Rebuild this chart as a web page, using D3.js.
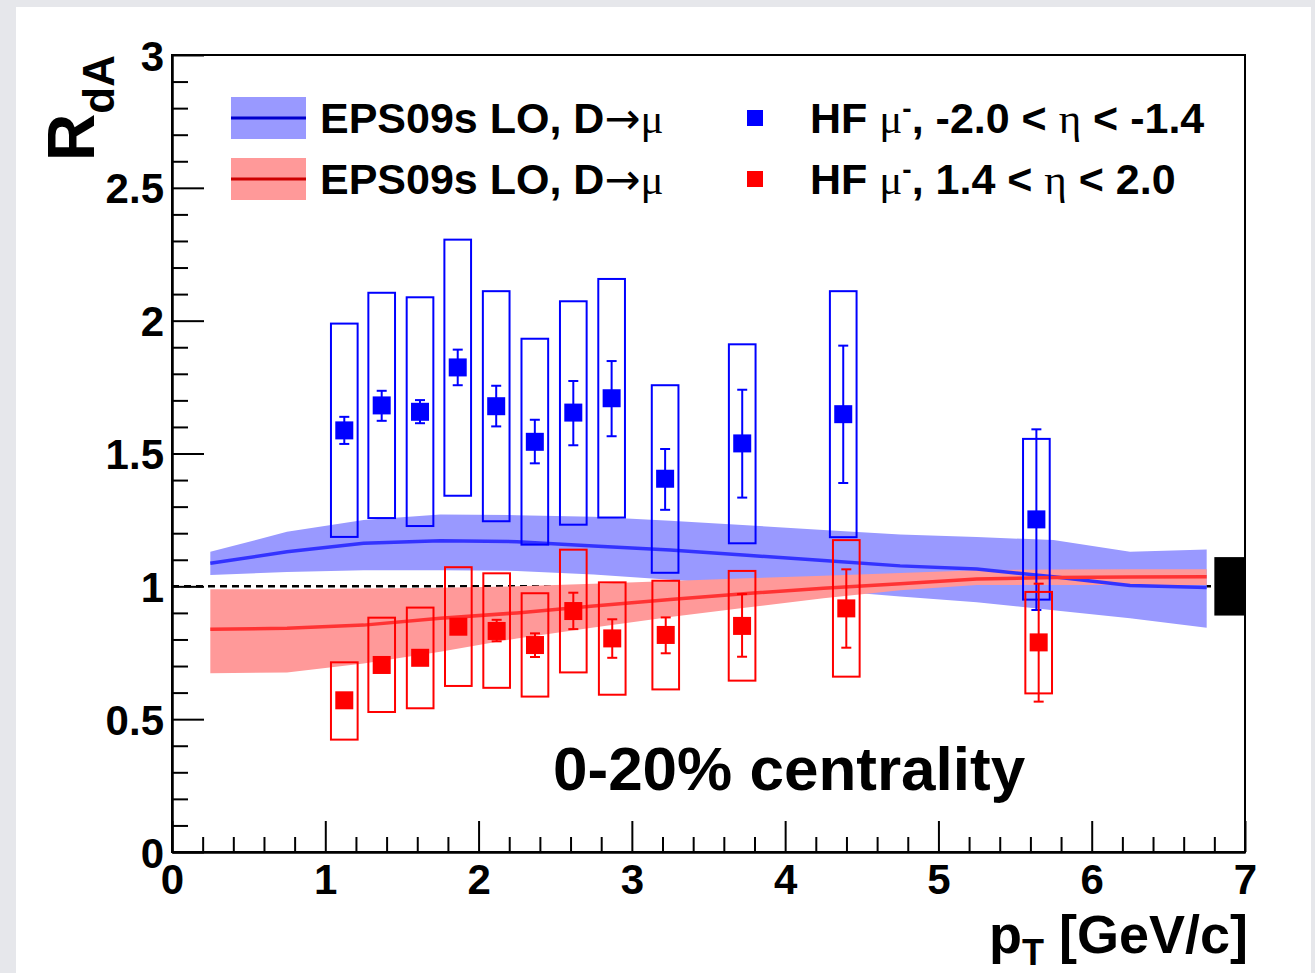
<!DOCTYPE html>
<html>
<head>
<meta charset="utf-8">
<script src="https://cdn.jsdelivr.net/npm/d3@7"></script>
<style>
  html, body { margin: 0; padding: 0; background: #e6e7eb; }
  svg { display: block; }
  .sans { font-family: "Liberation Sans", Arial, Helvetica, sans-serif; font-weight: bold; }
  .serif { font-family: "Liberation Serif", "DejaVu Serif", serif; font-weight: normal; }
  .arrow { font-family: "DejaVu Sans", sans-serif; font-weight: normal; }
</style>
</head>
<body>
<svg id="chart" width="1315" height="973"></svg>
<script>
// ---------------- data ----------------
// Backward (-2.0 < eta < -1.4), blue
const ptBlue      = [1.124, 1.368, 1.618, 1.864, 2.115, 2.367, 2.618, 2.868, 3.217, 3.720, 4.379, 5.639];
const rBlue       = [1.587, 1.681, 1.657, 1.824, 1.678, 1.544, 1.654, 1.708, 1.405, 1.538, 1.648, 1.252];
const statHiBlue  = [1.638, 1.736, 1.701, 1.891, 1.755, 1.627, 1.773, 1.848, 1.517, 1.740, 1.906, 1.591];
const statLoBlue  = [1.536, 1.623, 1.614, 1.757, 1.602, 1.463, 1.531, 1.565, 1.288, 1.334, 1.389, 0.911];
const sysHiBlue   = [1.989, 2.105, 2.088, 2.305, 2.111, 1.932, 2.073, 2.157, 1.757, 1.911, 2.111, 1.555];
const sysLoBlue   = [1.186, 1.257, 1.227, 1.341, 1.245, 1.157, 1.232, 1.259, 1.051, 1.162, 1.185, 0.950];

// Forward (1.4 < eta < 2.0), red
const ptRed       = [1.124, 1.368, 1.619, 1.868, 2.118, 2.368, 2.618, 2.872, 3.221, 3.719, 4.399, 5.654];
const rRed        = [0.571, 0.704, 0.731, 0.848, 0.832, 0.779, 0.907, 0.804, 0.817, 0.851, 0.917, 0.789];
const statHiRed   = [0.580, 0.714, 0.741, 0.860, 0.874, 0.823, 0.976, 0.876, 0.883, 0.971, 1.064, 1.010];
const statLoRed   = [0.562, 0.694, 0.721, 0.836, 0.793, 0.734, 0.839, 0.731, 0.748, 0.735, 0.769, 0.566];
const sysHiRed    = [0.714, 0.882, 0.920, 1.072, 1.049, 0.974, 1.138, 1.015, 1.021, 1.058, 1.174, 0.979];
const sysLoRed    = [0.423, 0.527, 0.541, 0.625, 0.618, 0.585, 0.676, 0.592, 0.612, 0.645, 0.660, 0.597];
const sysHalfWidth = 0.087; // GeV/c, half width of systematic boxes

// EPS09s LO D->mu calculations
const ptTheory    = [0.25, 0.75, 1.25, 1.75, 2.25, 2.75, 3.25, 3.75, 4.25, 4.75, 5.25, 5.75, 6.25, 6.75];
const blueCentral = [1.087, 1.130, 1.162, 1.172, 1.168, 1.152, 1.137, 1.117, 1.097, 1.077, 1.065, 1.036, 1.003, 0.996];
const blueUpper   = [1.130, 1.205, 1.250, 1.270, 1.268, 1.262, 1.247, 1.230, 1.212, 1.195, 1.186, 1.174, 1.130, 1.139];
const blueLower   = [1.043, 1.054, 1.061, 1.061, 1.058, 1.045, 1.025, 1.005, 0.985, 0.962, 0.940, 0.910, 0.880, 0.844];
const redCentral  = [0.838, 0.842, 0.854, 0.880, 0.900, 0.926, 0.950, 0.973, 0.993, 1.010, 1.028, 1.033, 1.035, 1.036];
const redUpper    = [0.989, 0.989, 0.992, 0.995, 1.000, 1.010, 1.020, 1.030, 1.040, 1.050, 1.061, 1.063, 1.064, 1.064];
const redLower    = [0.673, 0.676, 0.710, 0.754, 0.804, 0.845, 0.885, 0.920, 0.955, 0.985, 1.005, 1.005, 1.005, 1.005];

// normalisation uncertainty box at unity
const normPt = [6.8, 7.0];
const normR  = [0.89, 1.11];

const xTickLabels = ["0", "1", "2", "3", "4", "5", "6", "7"];
const yTickLabels = ["0", "0.5", "1", "1.5", "2", "2.5", "3"];
const xMajor = [0, 1, 2, 3, 4, 5, 6, 7];
const yMajor = [0, 0.5, 1, 1.5, 2, 2.5, 3];

// ---------------- drawing ----------------
const svg = d3.select("#chart");
// white slide area
svg.append("rect").attr("x", 16).attr("y", 7).attr("width", 1295).attr("height", 966).attr("fill", "#ffffff");

const x = d3.scaleLinear().domain([0, 7]).range([172, 1245]);
const y = d3.scaleLinear().domain([0, 3]).range([852, 55]);

const BLUE = "#0000ff", RED = "#ff0000";

// dashed unity line
svg.append("line")
  .attr("x1", x(0)).attr("x2", x(7)).attr("y1", y(1)).attr("y2", y(1))
  .attr("stroke", "#000").attr("stroke-width", 2.5).attr("stroke-dasharray", "7,5");

// bands
const bandArea = (lo, hi) => d3.area()
  .x((d, i) => x(ptTheory[i]))
  .y0((d, i) => y(lo[i]))
  .y1((d, i) => y(hi[i]));
const centralLine = (c) => d3.line().x((d, i) => x(ptTheory[i])).y((d, i) => y(c[i]));

svg.append("path").datum(ptTheory).attr("d", bandArea(blueLower, blueUpper)).attr("fill", "#9999ff");
svg.append("path").datum(ptTheory).attr("d", bandArea(redLower, redUpper)).attr("fill", "#ff9999");
svg.append("path").datum(ptTheory).attr("d", centralLine(blueCentral)).attr("fill", "none").attr("stroke", "#3333ff").attr("stroke-width", 3.5);
svg.append("path").datum(ptTheory).attr("d", centralLine(redCentral)).attr("fill", "none").attr("stroke", "#ff3333").attr("stroke-width", 3.5);

// normalisation box
svg.append("rect")
  .attr("x", x(normPt[0])).attr("width", x(normPt[1]) - x(normPt[0]))
  .attr("y", y(normR[1])).attr("height", y(normR[0]) - y(normR[1]))
  .attr("fill", "#000");

function drawSeries(pt, r, sHi, sLo, yHi, yLo, color) {
  const g = svg.append("g");
  const idx = d3.range(pt.length);
  // systematic boxes
  g.selectAll("rect.sys").data(idx).join("rect").attr("class", "sys")
    .attr("x", i => x(pt[i] - sysHalfWidth))
    .attr("width", i => x(pt[i] + sysHalfWidth) - x(pt[i] - sysHalfWidth))
    .attr("y", i => y(yHi[i]))
    .attr("height", i => y(yLo[i]) - y(yHi[i]))
    .attr("fill", "none").attr("stroke", color).attr("stroke-width", 2);
  // stat error bars
  g.selectAll("line.stat").data(idx).join("line").attr("class", "stat")
    .attr("x1", i => x(pt[i])).attr("x2", i => x(pt[i]))
    .attr("y1", i => y(sHi[i])).attr("y2", i => y(sLo[i]))
    .attr("stroke", color).attr("stroke-width", 2);
  const capW = 5;
  g.selectAll("line.capHi").data(idx).join("line").attr("class", "capHi")
    .attr("x1", i => x(pt[i]) - capW).attr("x2", i => x(pt[i]) + capW)
    .attr("y1", i => y(sHi[i])).attr("y2", i => y(sHi[i]))
    .attr("stroke", color).attr("stroke-width", 2);
  g.selectAll("line.capLo").data(idx).join("line").attr("class", "capLo")
    .attr("x1", i => x(pt[i]) - capW).attr("x2", i => x(pt[i]) + capW)
    .attr("y1", i => y(sLo[i])).attr("y2", i => y(sLo[i]))
    .attr("stroke", color).attr("stroke-width", 2);
  // markers
  const m = 18;
  g.selectAll("rect.mk").data(idx).join("rect").attr("class", "mk")
    .attr("x", i => x(pt[i]) - m / 2).attr("y", i => y(r[i]) - m / 2)
    .attr("width", m).attr("height", m).attr("fill", color);
}
drawSeries(ptBlue, rBlue, statHiBlue, statLoBlue, sysHiBlue, sysLoBlue, BLUE);
drawSeries(ptRed, rRed, statHiRed, statLoRed, sysHiRed, sysLoRed, RED);

// frame
svg.append("rect").attr("x", x(0)).attr("y", y(3)).attr("width", x(7) - x(0)).attr("height", y(0) - y(3))
  .attr("fill", "none").attr("stroke", "#000").attr("stroke-width", 2);

// axes: ticks pointing inward (ROOT style)
const xMinor = d3.range(0, 7.001, 0.2).filter(v => Math.abs(v - Math.round(v)) > 1e-6);
const yMinor = d3.range(0, 3.001, 0.1).filter(v => Math.abs(v * 2 - Math.round(v * 2)) > 1e-6);

const xAxisMajor = d3.axisBottom(x).tickValues(xMajor).tickSizeInner(-31).tickSizeOuter(0)
  .tickPadding(12).tickFormat((d, i) => xTickLabels[i]);
const xAxisMinor = d3.axisBottom(x).tickValues(xMinor).tickSizeInner(-15).tickSizeOuter(0).tickFormat("");
const yAxisMajor = d3.axisLeft(y).tickValues(yMajor).tickSizeInner(-32).tickSizeOuter(0)
  .tickPadding(8).tickFormat((d, i) => yTickLabels[i]);
const yAxisMinor = d3.axisLeft(y).tickValues(yMinor).tickSizeInner(-16).tickSizeOuter(0).tickFormat("");

function styleAxis(g) {
  g.select(".domain").attr("stroke", "#000").attr("stroke-width", 2);
  g.selectAll(".tick line").attr("stroke", "#000").attr("stroke-width", 2);
  g.selectAll(".tick text").attr("font-size", 42).attr("fill", "#000")
    .style("font-family", '"Liberation Sans", Arial, sans-serif').style("font-weight", "bold");
}
svg.append("g").attr("transform", `translate(0,${y(0)})`).call(xAxisMinor).call(styleAxis);
svg.append("g").attr("transform", `translate(0,${y(0)})`).call(xAxisMajor).call(styleAxis)
  .selectAll(".tick text").attr("dy", "0.71em");
svg.append("g").attr("transform", `translate(${x(0)},0)`).call(yAxisMinor).call(styleAxis);
svg.append("g").attr("transform", `translate(${x(0)},0)`).call(yAxisMajor).call(styleAxis)
  .selectAll(".tick text").attr("dy", "0.36em");

// axis titles
const xt = svg.append("text").attr("class", "sans").attr("x", 1248).attr("y", 953)
  .attr("text-anchor", "end").attr("font-size", 54);
xt.append("tspan").text("p");
xt.append("tspan").attr("font-size", 36).attr("dy", 12).text("T");
xt.append("tspan").attr("dy", -12).text(" [GeV/c]");

const yt = svg.append("text").attr("class", "sans").attr("transform", "translate(94,55) rotate(-90)")
  .attr("text-anchor", "end").attr("font-size", 66);
yt.append("tspan").text("R");
yt.append("tspan").attr("font-size", 44).attr("dy", 20).text("dA");

// legend
const legend = svg.append("g");
const bandRows = [
  {fill: "#9999ff", line: "#0000cc", yc: 118},
  {fill: "#ff9999", line: "#cc0000", yc: 179}
];
bandRows.forEach(b => {
  legend.append("rect").attr("x", 231).attr("y", b.yc - 21).attr("width", 75).attr("height", 42).attr("fill", b.fill);
  legend.append("line").attr("x1", 231).attr("x2", 306).attr("y1", b.yc).attr("y2", b.yc)
    .attr("stroke", b.line).attr("stroke-width", 3);
  const t = legend.append("text").attr("x", 320).attr("y", b.yc + 15).attr("font-size", 43);
  t.append("tspan").attr("class", "sans").text("EPS09s LO, D");
  t.append("tspan").attr("class", "arrow").text("\u2192");
  t.append("tspan").attr("class", "serif").text("\u03bc");
});
const markRows = [
  {color: BLUE, yc: 118, range: ["-2.0", "-1.4"]},
  {color: RED, yc: 179, range: ["1.4", "2.0"]}
];
markRows.forEach(m => {
  legend.append("rect").attr("x", 747).attr("y", m.yc - 8).attr("width", 16).attr("height", 16).attr("fill", m.color);
  const t = legend.append("text").attr("x", 810).attr("y", m.yc + 15).attr("font-size", 43);
  t.append("tspan").attr("class", "sans").text("HF ");
  t.append("tspan").attr("class", "serif").text("\u03bc");
  t.append("tspan").attr("class", "sans").attr("font-size", 28).attr("dy", -15).text("-");
  t.append("tspan").attr("class", "sans").attr("dy", 15).text(`, ${m.range[0]} < `);
  t.append("tspan").attr("class", "serif").text("\u03b7");
  t.append("tspan").attr("class", "sans").text(` < ${m.range[1]}`);
});

// centrality label
svg.append("text").attr("class", "sans").attr("x", 553).attr("y", 790).attr("font-size", 62)
  .text("0-20% centrality");
</script>
</body>
</html>
